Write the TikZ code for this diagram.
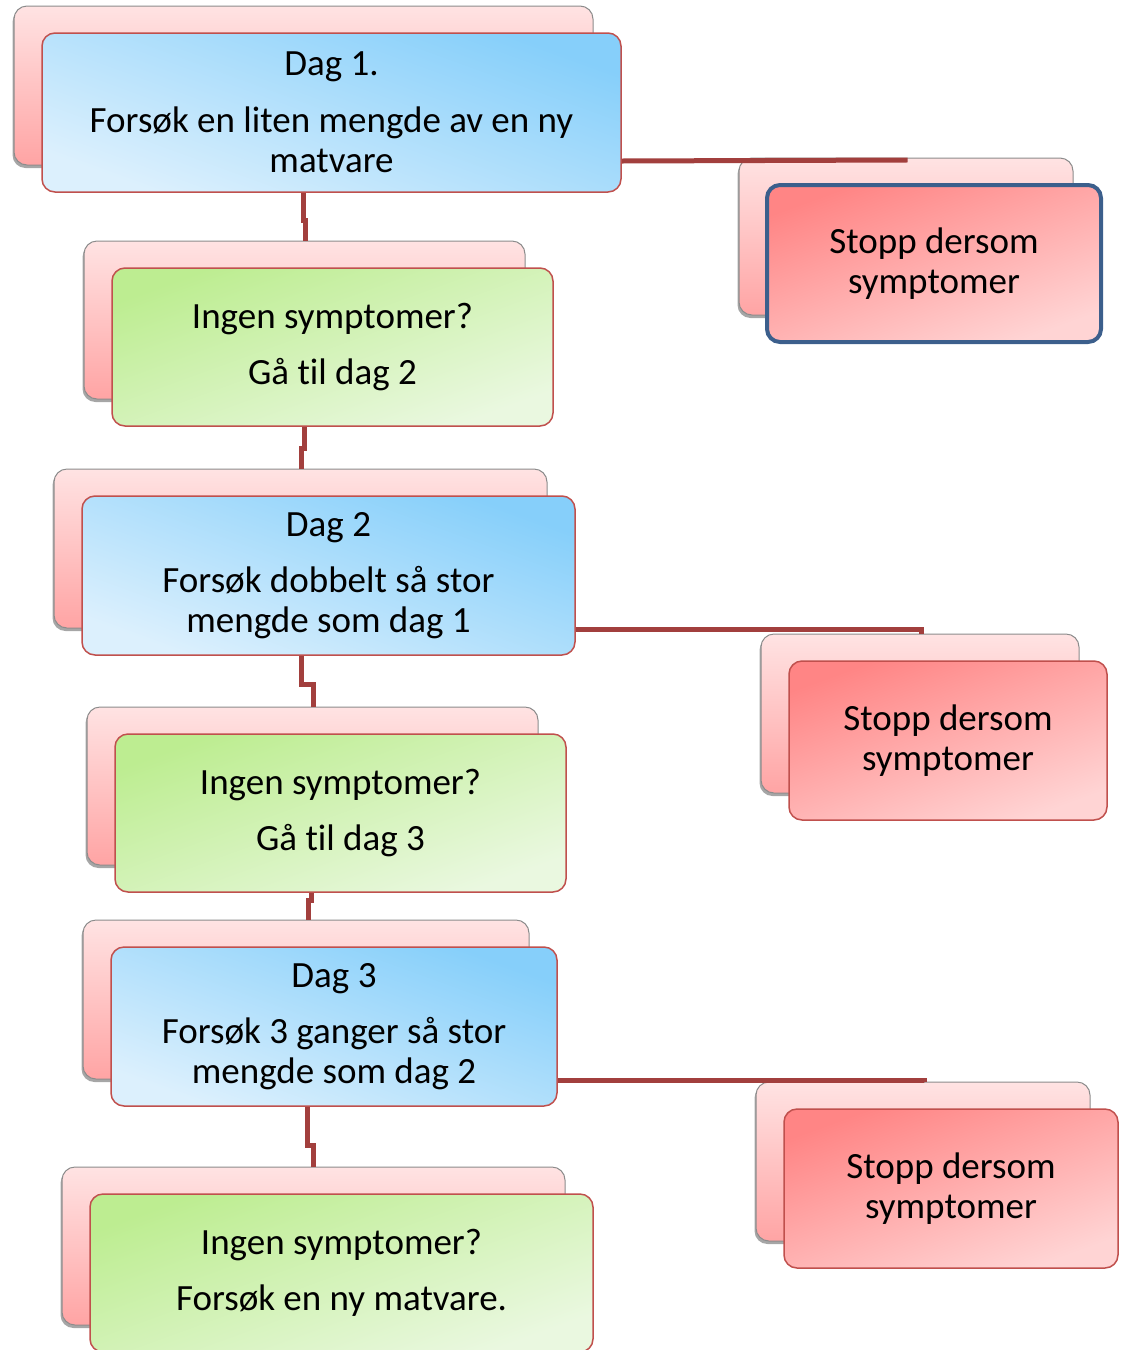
\documentclass[tikz,border=0pt]{standalone}
\usepackage{fontspec}
\setmainfont{Carlito}[Ligatures=NoCommon]
\usetikzlibrary{shadows}

\definecolor{linkred}{HTML}{A23F3D}
\definecolor{frontedge}{HTML}{C0504D}
\definecolor{backedge}{HTML}{8C8C8C}
\definecolor{backtop}{HTML}{FFE3E3}
\definecolor{backbot}{HTML}{FFA4A4}
\definecolor{bluedark}{HTML}{86CFFA}
\definecolor{bluelight}{HTML}{DCF0FD}
\definecolor{greendark}{HTML}{BDED91}
\definecolor{greenlight}{HTML}{EAF8E0}
\definecolor{stopdark}{HTML}{FF8585}
\definecolor{stoplight}{HTML}{FFD4D4}
\definecolor{stopedge}{HTML}{3C5F8C}

\tikzset{
  every node/.style={font=\fontsize{37}{40}\selectfont, align=center, inner sep=0pt, text=black},
  boxbase/.style={rounded corners=13},
  backbox/.style={boxbase, draw=backedge, line width=1, top color=backtop, bottom color=backbot,
    drop shadow={shadow xshift=-1.5pt, shadow yshift=-3pt, opacity=0.35, fill=black}},
  daybox/.style={boxbase, draw=frontedge, line width=1.5, top color=bluedark, bottom color=bluelight, shading angle=-20},
  okbox/.style={boxbase, draw=frontedge, line width=1.5, top color=greendark, bottom color=greenlight, shading angle=20},
  stopbox/.style={boxbase, draw=frontedge, line width=1.5, top color=stopdark, bottom color=stoplight, shading angle=20},
  stopboxhi/.style={stopbox, draw=stopedge, line width=4},
  link/.style={draw=linkred, line width=5},
}

% stacked pair: pink card behind, coloured card in front
% #1 name, #2 style, #3 cx, #4 cy, #5 width, #6 height, #7 text
\newcommand\duo[7]{%
  \node[backbox, minimum width=#5, minimum height=#6] (#1b) at (#3-28,#4-27) {};
  \node[#2, minimum width=#5, minimum height=#6] (#1) at (#3,#4) {#7};
}

\begin{document}
\begin{tikzpicture}[x=1pt,y=-1pt]
\useasboundingbox (0,0) rectangle (1122,1350);

\duo{d1}{daybox}{331.5}{112.5}{579}{159}{Dag 1.\\[17pt]Forsøk en liten mengde av en ny\\matvare}
\duo{s1}{stopboxhi}{934}{263.5}{334}{157}{Stopp dersom\\symptomer}
\duo{g1}{okbox}{332.5}{347}{441}{158}{Ingen symptomer?\\[16pt]Gå til dag 2}
\duo{d2}{daybox}{328.5}{575.5}{493}{159}{Dag 2\\[16pt]Forsøk dobbelt så stor\\mengde som dag 1}
\duo{s2}{stopbox}{948}{740.5}{318}{159}{Stopp dersom\\symptomer}
\duo{g2}{okbox}{340.5}{813}{451}{158}{Ingen symptomer?\\[16pt]Gå til dag 3}
\duo{d3}{daybox}{334}{1026.5}{446}{159}{Dag 3\\[16pt]Forsøk 3 ganger så stor\\mengde som dag 2}
\duo{s3}{stopbox}{951}{1188.5}{334}{159}{Stopp dersom\\symptomer}
\duo{g3}{okbox}{341.5}{1273}{503}{158}{Ingen symptomer?\\[16pt]Forsøk en ny matvare.}

% vertical links down the main column
\draw[link] (303,0 |- d1.south) -- (303,220) -- (305,220) -- (305,0 |- g1b.north);
\draw[link] (304,0 |- g1.south) -- (304,448) -- (301,448) -- (301,0 |- d2b.north);
\draw[link] (301,0 |- d2.south) -- (301,684) -- (313,684) -- (313,0 |- g2b.north);
\draw[link] (311,0 |- g2.south) -- (311,900) -- (308,900) -- (308,0 |- d3b.north);
\draw[link] (307,0 |- d3.south) -- (307,1145) -- (313,1145) -- (313,0 |- g3b.north);

% side links to the stop cards
\draw[link] (d1.east |- 0,161) -- (905,160) -- (905,0 |- s1b.north);
\draw[link] (d2.east |- 0,629) -- (921,629) -- (921,0 |- s2b.north);
\draw[link] (d3.east |- 0,1080) -- (924,1080) -- (924,0 |- s3b.north);
\end{tikzpicture}
\end{document}
